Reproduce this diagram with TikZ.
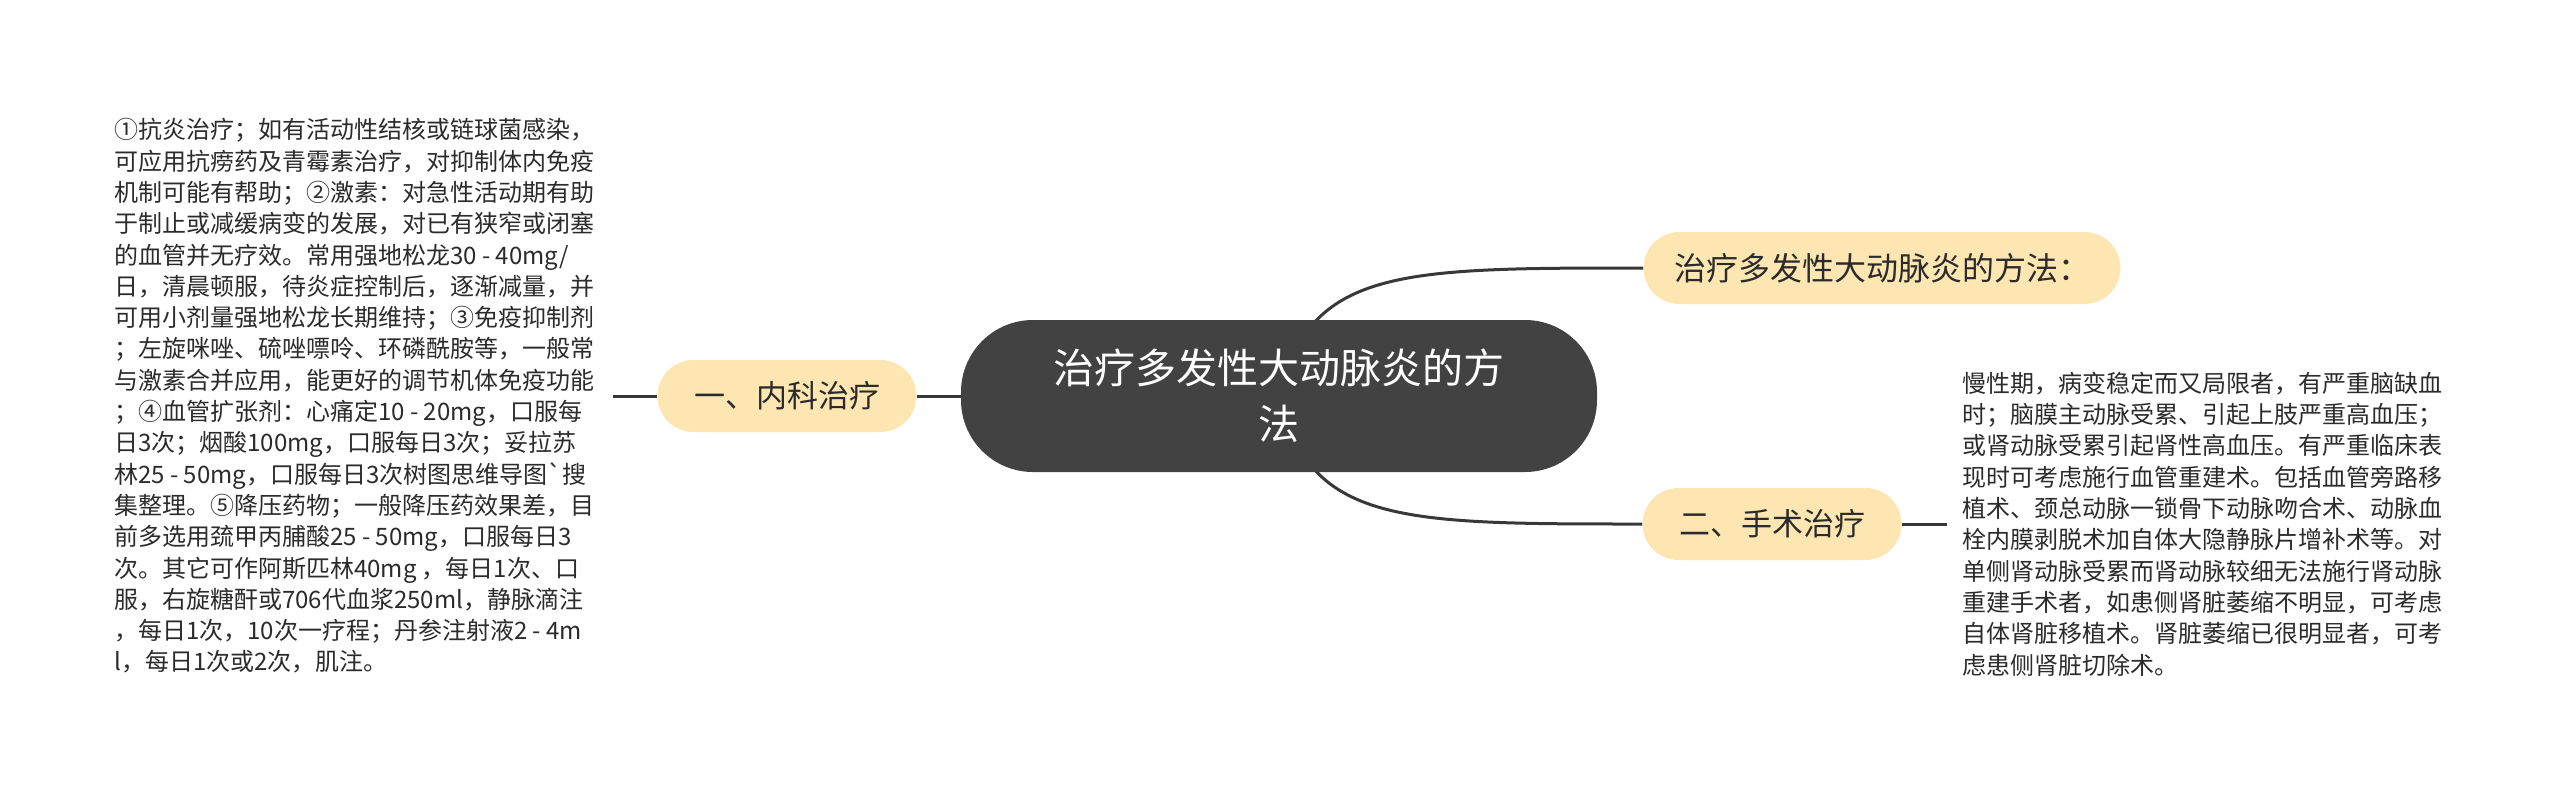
\documentclass[tikz,border=0pt]{standalone}
\usepackage{fontspec}
\newfontfamily\cjk{Noto Sans CJK SC}
\usetikzlibrary{backgrounds}
\definecolor{darkc}{HTML}{424242}
\definecolor{branchc}{HTML}{FDE6B1}
\definecolor{linec}{HTML}{383838}
\definecolor{textc}{HTML}{2B2B2B}
\begin{document}
\begin{tikzpicture}[x=1pt,y=-1pt,
  rootbox/.style={fill=darkc, rounded corners=72pt, minimum width=636pt, minimum height=152pt, inner sep=0pt, text=white, align=center, font=\cjk\fontsize{41}{56}\selectfont},
  branchbox/.style={fill=branchc, rounded corners=36pt, minimum height=72pt, inner sep=0pt, text=textc, font=\cjk\fontsize{31}{36}\selectfont},
  leafbox/.style={inner sep=0pt, text=textc, align=left, anchor=west, font=\cjk\fontsize{24}{31.3}\selectfont},
  link/.style={draw=linec, line width=3pt}]
\useasboundingbox (0,0) rectangle (2560,796);
\begin{scope}[on background layer]
  \fill[white] (0,0) rectangle (2560,796);
\end{scope}

\node[rootbox] (c) at (1279,396) {治疗多发性大动脉炎的方\\法};
\node[branchbox, minimum width=259pt] (l) at (787,396) {一、内科治疗};
\node[branchbox, minimum width=477pt, font=\cjk\fontsize{32}{36}\selectfont] (t) at (1882,268) {治疗多发性大动脉炎的方法：};
\node[branchbox, minimum width=259pt] (b) at (1772,524) {二、手术治疗};

\node[leafbox] (lt) at (114,396) {①抗炎治疗；如有活动性结核或链球菌感染，\\%
可应用抗痨药及青霉素治疗，对抑制体内免疫\\%
机制可能有帮助；②激素：对急性活动期有助\\%
于制止或减缓病变的发展，对已有狭窄或闭塞\\%
的血管并无疗效。常用强地松龙30 - 40mg/\\%
日，清晨顿服，待炎症控制后，逐渐减量，并\\%
可用小剂量强地松龙长期维持；③免疫抑制剂\\%
；左旋咪唑、硫唑嘌呤、环磷酰胺等，一般常\\%
与激素合并应用，能更好的调节机体免疫功能\\%
；④血管扩张剂：心痛定10 - 20mg，口服每\\%
日3次；烟酸100mg，口服每日3次；妥拉苏\\%
林25 - 50mg，口服每日3次树图思维导图\textasciigrave{}搜\\%
集整理。⑤降压药物；一般降压药效果差，目\\%
前多选用巯甲丙脯酸25 - 50mg，口服每日3\\%
次。其它可作阿斯匹林40mg ，每日1次、口\\%
服，右旋糖酐或706代血浆250ml，静脉滴注\\%
，每日1次，10次一疗程；丹参注射液2 - 4m\\%
l，每日1次或2次，肌注。};

\node[leafbox] (rt) at (1962,524) {慢性期，病变稳定而又局限者，有严重脑缺血\\%
时；脑膜主动脉受累、引起上肢严重高血压；\\%
或肾动脉受累引起肾性高血压。有严重临床表\\%
现时可考虑施行血管重建术。包括血管旁路移\\%
植术、颈总动脉一锁骨下动脉吻合术、动脉血\\%
栓内膜剥脱术加自体大隐静脉片增补术等。对\\%
单侧肾动脉受累而肾动脉较细无法施行肾动脉\\%
重建手术者，如患侧肾脏萎缩不明显，可考虑\\%
自体肾脏移植术。肾脏萎缩已很明显者，可考\\%
虑患侧肾脏切除术。};

\coordinate (lend) at (613,396);
\coordinate (rend) at (1947,524);

\begin{scope}[on background layer]
  \draw[link] (l.east) -- (c.west);
  \draw[link] (l.west) -- (lend);
  \draw[link] (c.center) .. controls (1310,268) and (1400,268) .. (t.west);
  \draw[link] (c.center) .. controls (1310,524) and (1400,524) .. (b.west);
  \draw[link] (b.east) -- (rend);
\end{scope}
\end{tikzpicture}
\end{document}
